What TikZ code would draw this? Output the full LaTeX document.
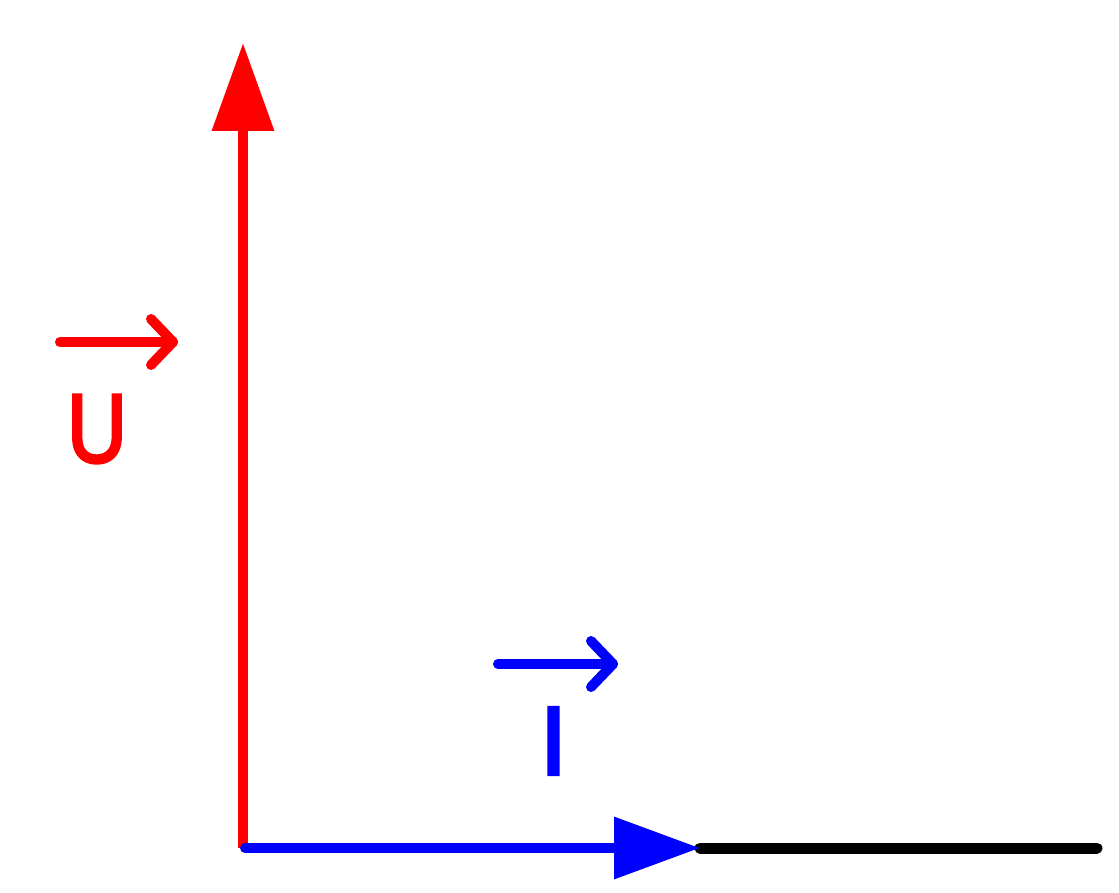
\documentclass[tikz,border=0pt]{standalone}
\usepackage{fontspec}
\setmainfont{Liberation Sans}
\newfontfamily\lblfont[FakeBold=3]{Liberation Sans}
\usetikzlibrary{arrows.meta}
\definecolor{ured}{RGB}{255,0,0}
\definecolor{iblue}{RGB}{0,0,255}
\begin{document}
\begin{tikzpicture}[x=1pt,y=-1pt,
  axis/.style={line width=10pt},
  vecbar/.style={line width=10pt,line cap=round,line join=round},
  lbl/.style={inner sep=0pt,font=\lblfont\fontsize{98}{98}\selectfont}]
\useasboundingbox (0,0) rectangle (1119,893);
% axis points
\coordinate (O) at (243,848);
\coordinate (Ob) at (245,848);
\coordinate (Utip) at (243,43);
\coordinate (Itip) at (700,848);
\coordinate (E) at (1097,848);
% black continuation
\draw[line width=11pt,line cap=round] (Itip) -- (E);
% red vector U
\draw[axis,ured,-{Triangle[length=88pt,width=60pt]}] (O) -- (Utip);
% blue vector I
\draw[axis,iblue,line cap=round,-{Triangle[length=86pt,width=60pt]}] (Ob) -- (Itip);
% label U
\node[lbl,text=ured,xscale=0.85] (U) at (97,429) {U};
\coordinate (ua) at (60,342);
\coordinate (ub) at (173,342);
\coordinate (uc) at (151,319);
\coordinate (ud) at (151,365);
\draw[vecbar,ured] (ua) -- (ub);
\draw[vecbar,ured] (uc) -- (ub) -- (ud);
% label I
\node[lbl,text=iblue] (I) at (553.5,741) {I};
\coordinate (ia) at (498,664);
\coordinate (ib) at (613,664);
\coordinate (ic) at (591,641);
\coordinate (id) at (591,687);
\draw[vecbar,iblue] (ia) -- (ib);
\draw[vecbar,iblue] (ic) -- (ib) -- (id);
\end{tikzpicture}
\end{document}
